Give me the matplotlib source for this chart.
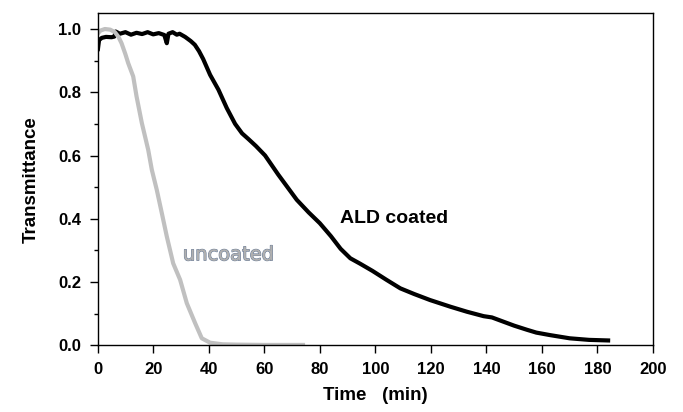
import matplotlib
matplotlib.use("Agg")
import matplotlib.pyplot as plt
import matplotlib.patheffects as pe
from matplotlib.ticker import MultipleLocator

# ALD coated sample (black)
ald_t = [0, 0.5, 1.5, 3, 5, 6, 6.5, 8, 10, 12, 14, 16, 18, 20, 22, 24, 24.9, 25.5,
         27, 28.5, 29.5, 31.5, 33.5, 35, 36.5, 38, 40.5, 43.5, 46.5, 49.5, 52, 54.3,
         57, 60.3, 65, 71.7, 76, 80, 84, 87.5, 91, 94.5, 99, 104, 109, 114, 119.7,
         127, 133, 139, 142, 146, 150, 154.6, 158, 163, 170, 177, 184.6]
ald_T = [0.93, 0.965, 0.972, 0.975, 0.974, 0.976, 0.992, 0.985, 0.99, 0.982, 0.988,
         0.984, 0.99, 0.983, 0.987, 0.981, 0.955, 0.985, 0.99, 0.982, 0.985, 0.975,
         0.962, 0.950, 0.930, 0.905, 0.855, 0.808, 0.750, 0.700, 0.670, 0.652, 0.630,
         0.600, 0.540, 0.460, 0.420, 0.386, 0.345, 0.305, 0.275, 0.258, 0.235, 0.207,
         0.180, 0.162, 0.143, 0.122, 0.106, 0.092, 0.088, 0.075, 0.062, 0.049, 0.040,
         0.032, 0.022, 0.017, 0.015]

# uncoated sample (grey)
unc_t = [0, 1, 2.6, 4.5, 6.2, 7.5, 8.6, 10, 11, 12.8, 14, 15.9, 18.2, 19.5, 21.3,
         23.1, 24.9, 27.2, 29.7, 32.1, 35.1, 37.5, 40.5, 45, 50, 60, 74.7]
unc_T = [0.985, 0.995, 1.0, 0.998, 0.99, 0.975, 0.955, 0.92, 0.892, 0.85, 0.787,
         0.703, 0.618, 0.555, 0.491, 0.418, 0.344, 0.259, 0.207, 0.133, 0.070, 0.022,
         0.008, 0.003, 0.002, 0.001, 0.001]

plt.rcParams['font.family'] = ['Liberation Sans', 'DejaVu Sans']
plt.rcParams['font.weight'] = 'bold'

fig = plt.figure(figsize=(6.83, 4.12), dpi=100)
ax = fig.add_axes([0.143, 0.162, 0.813, 0.806])

ax.plot(ald_t, ald_T, color='black', lw=3.0, solid_capstyle='butt')
ax.plot(unc_t, unc_T, color='#c0c0c0', lw=3.0, solid_capstyle='butt')

ax.set_xlim(0, 200)
ax.set_ylim(0, 1.05)
ax.xaxis.set_major_locator(MultipleLocator(20))
ax.yaxis.set_major_locator(MultipleLocator(0.2))
ax.yaxis.set_minor_locator(MultipleLocator(0.1))
ax.yaxis.set_major_formatter(matplotlib.ticker.FormatStrFormatter('%.1f'))

ax.tick_params(axis='both', which='major', direction='out', length=6, width=1,
               labelsize=12, pad=6)
ax.tick_params(axis='y', which='minor', direction='out', length=3, width=1)
for s in ax.spines.values():
    s.set_linewidth(1)

ax.set_xlabel('Time   (min)', fontsize=13.5, fontweight='bold', labelpad=7)
ax.set_ylabel('Transmittance', fontsize=13.5, fontweight='bold', labelpad=13)

ax.text(87.3, 0.40, 'ALD coated', fontsize=14, fontweight='bold', va='center',
        ha='left', color='black')
t = ax.text(30.7, 0.286, 'uncoated', fontsize=14, fontweight='normal',
            family='DejaVu Sans', va='center', ha='left', color='#b0b0b0')
t.set_path_effects([pe.withStroke(linewidth=0.9, foreground='#647896'), pe.Normal()])

fig.savefig('out.png', dpi=100)
